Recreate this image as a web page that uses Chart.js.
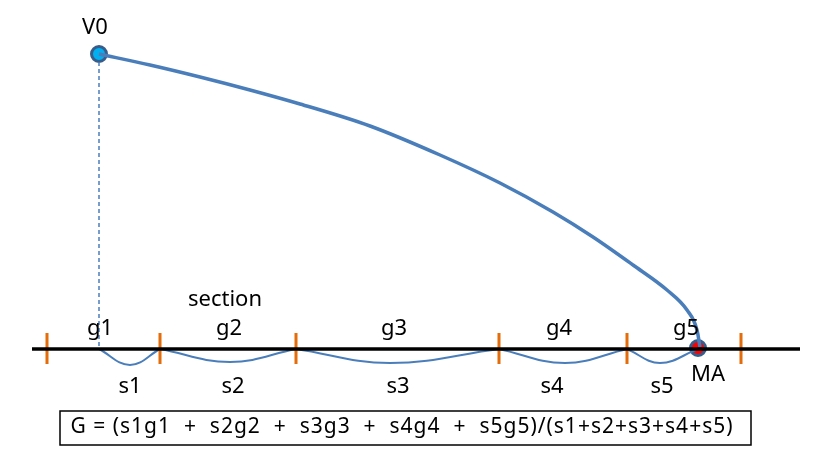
<!DOCTYPE html>
<html>
  <head>
    <title>Braking curve sections</title>
    <script src="https://cdn.jsdelivr.net/npm/chart.js@4"></script>
    <style>
      html, body { margin: 0; padding: 0; background: #fff; }
    </style>
  </head>
  <body>
    <canvas id="canvas" width="816" height="461"></canvas>
    <script>
      // diagram is laid out in a 816 x 461 coordinate space
      const trackY = 349;
      const trackX = [32, 800];
      const sectionBounds = [47, 160, 296, 499, 627, 741];
      const v0 = { x: 99, y: 54 };
      const ma = { x: 698, y: 348 };
      // braking curve from V0 down to MA
      const curveX = [99, 150, 200, 250, 300, 370, 440, 500, 553, 593, 633, 667, 687, 697, 700];
      const curveY = [54, 65, 77, 90, 104, 126, 155, 183, 212, 237, 265, 290, 310, 330, 347];
      // distance arcs below the track: [start, lowest, end]
      const arcX = [[99, 130, 160], [160, 230, 296], [296, 390, 499], [499, 565, 627], [627, 660, 698]];
      const arcLow = [365, 362, 363, 363, 363];
      const gLabels = ['g1', 'g2', 'g3', 'g4', 'g5'];
      const gLabelX = [100, 229, 394, 559, 686];
      const sLabels = ['s1', 's2', 's3', 's4', 's5'];
      const sLabelX = [130, 233, 398, 552, 662];
      const formula = 'G = (s1g1  +  s2g2  +  s3g3  +  s4g4  +  s5g5)/(s1+s2+s3+s4+s5)';

      const blue = '#4a7ebb';
      const orange = '#e46c0a';
      const font = '"Noto Sans", "Open Sans", sans-serif';

      const tickData = [];
      sectionBounds.forEach(x => {
        tickData.push({ x: x, y: 333 }, { x: x, y: 364 }, { x: x, y: null });
      });
      const arcData = [];
      arcX.forEach((xs, i) => {
        arcData.push({ x: xs[0], y: trackY }, { x: xs[1], y: arcLow[i] }, { x: xs[2], y: trackY }, { x: xs[2], y: null });
      });

      const textPlugin = {
        id: 'diagramText',
        afterDraw(chart) {
          const { ctx, scales: { x, y } } = chart;
          ctx.save();
          ctx.fillStyle = '#000';
          ctx.textAlign = 'center';
          ctx.textBaseline = 'middle';
          ctx.font = '22px ' + font;
          const put = (t, px, py) => ctx.fillText(t, x.getPixelForValue(px), y.getPixelForValue(py));
          put('V0', 95, 28);
          put('section', 225, 300);
          put('MA', 708, 375);
          gLabels.forEach((t, i) => put(t, gLabelX[i], 329));
          sLabels.forEach((t, i) => put(t, sLabelX[i], 387));
          // formula box
          const bx0 = x.getPixelForValue(60), bx1 = x.getPixelForValue(751);
          const by0 = y.getPixelForValue(411), by1 = y.getPixelForValue(445);
          ctx.strokeStyle = '#000';
          ctx.lineWidth = 1.5;
          ctx.strokeRect(bx0, by0, bx1 - bx0, by1 - by0);
          ctx.font = '21px ' + font;
          ctx.letterSpacing = '1px';
          put(formula, 402, 427);
          ctx.restore();
        }
      };

      window.onload = () => {
        const ctx = document.getElementById('canvas').getContext('2d');
        new Chart(ctx, {
          type: 'scatter',
          data: {
            datasets: [
              {
                // dashed drop line from V0
                data: [{ x: v0.x, y: v0.y + 8 }, { x: v0.x, y: trackY }],
                showLine: true, borderColor: blue, borderWidth: 1.5, borderDash: [4, 3],
                pointRadius: 0
              },
              {
                data: [{ x: trackX[0], y: trackY }, { x: trackX[1], y: trackY }],
                showLine: true, borderColor: '#000', borderWidth: 3.5, pointRadius: 0
              },
              {
                data: tickData, showLine: true, spanGaps: false,
                borderColor: orange, borderWidth: 3, pointRadius: 0
              },
              {
                data: arcData, showLine: true, spanGaps: false, tension: 0.4,
                borderColor: blue, borderWidth: 2, pointRadius: 0
              },
              {
                data: curveX.map((cx, i) => ({ x: cx, y: curveY[i] })),
                showLine: true, cubicInterpolationMode: 'monotone', borderColor: blue, borderWidth: 3.5,
                pointRadius: 0
              },
              {
                data: [v0], pointRadius: 7.5, pointBackgroundColor: '#00b0f0',
                pointBorderColor: '#385d8a', pointBorderWidth: 3
              },
              {
                data: [ma], pointRadius: 7.5, pointBackgroundColor: '#ff0000',
                pointBorderColor: '#385d8a', pointBorderWidth: 3
              }
            ]
          },
          options: {
            responsive: false,
            animation: false,
            layout: { padding: 0, autoPadding: false },
            plugins: { legend: { display: false }, tooltip: { enabled: false } },
            scales: {
              x: { type: 'linear', min: 0, max: 816, display: false },
              y: { type: 'linear', min: 0, max: 461, reverse: true, display: false }
            }
          },
          plugins: [textPlugin]
        });
      };
    </script>
  </body>
</html>
